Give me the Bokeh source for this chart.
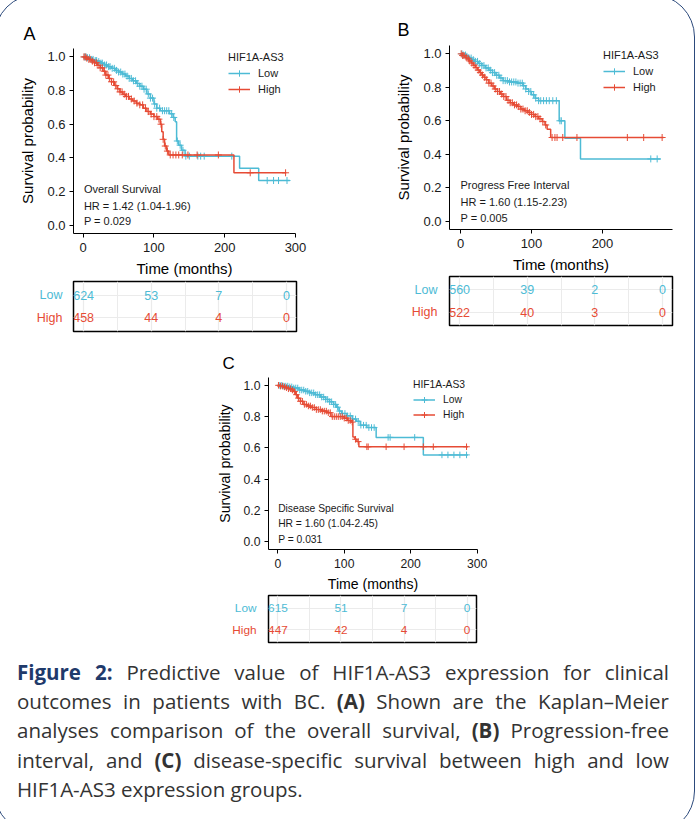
import numpy as np
from bokeh.plotting import figure
from bokeh.models import (FixedTicker, PrintfTickFormatter, Legend, LegendItem,
                          Label, Div, Spacer, InlineStyleSheet)
from bokeh.layouts import column, row
from bokeh.core.properties import value
from bokeh.embed import file_html
from bokeh.resources import INLINE

# ---------------- data ----------------
groups = ["Low", "High"]
risk_times = [0, 100, 200, 300]

# Panel A: Overall Survival
A_low_t = [0, 5, 10, 15, 20, 25, 30, 35, 40, 45, 50, 55, 60, 65, 70, 75, 80, 85, 90, 95,
           100, 104, 109, 122, 127, 130, 132, 135, 139, 144, 221, 248, 292]
A_low_s = [1.0, .995, .985, .978, .972, .963, .952, .942, .932, .92, .91, .898, .886, .872,
           .858, .842, .826, .808, .78, .755, .72, .695, .68, .662, .64, .615, .50, .475,
           .445, .41, .338, .265, .265]
A_low_cens = [2, 4, 6, 9, 12, 14, 17, 19, 22, 25, 27, 30, 33, 36, 38, 41, 44, 47, 50, 53, 56,
              59, 62, 65, 68, 71, 74, 77, 80, 83, 86, 89, 92, 95, 98, 101, 104, 108, 112, 115,
              118, 121, 125, 128, 133, 137, 141, 145, 150, 162, 166, 171, 210, 260, 269, 276, 288]
A_high_t = [0, 4, 8, 12, 16, 20, 24, 28, 32, 36, 40, 44, 48, 52, 56, 60, 65, 70, 75, 80, 85,
            90, 95, 100, 105, 109, 111, 113, 115, 118, 121, 213, 287]
A_high_s = [1.0, .993, .985, .975, .965, .95, .935, .915, .892, .872, .852, .83, .81, .792,
            .778, .765, .75, .738, .725, .715, .695, .675, .66, .645, .63, .60, .555, .51,
            .47, .44, .417, .311, .311]
A_high_cens = [1, 3, 5, 8, 10, 13, 16, 19, 21, 24, 27, 30, 32, 35, 37, 40, 43, 46, 49, 52, 55,
               58, 61, 64, 68, 72, 76, 80, 84, 88, 92, 96, 100, 104, 107, 110, 113, 116, 119,
               123, 127, 131, 135, 140, 148, 161, 191, 236, 286]
A_risk_low = [624, 53, 7, 0]
A_risk_high = [458, 44, 4, 0]
A_stats = ["Overall Survival", "HR = 1.42 (1.04-1.96)", "P = 0.029"]

# Panel B: Progress Free Interval
B_low_t = [0, 4, 8, 12, 16, 20, 25, 30, 35, 40, 45, 50, 55, 60, 68, 80, 88, 92, 96, 100,
           105, 110, 139, 147, 169, 282]
B_low_s = [1.0, .993, .985, .975, .965, .955, .942, .93, .916, .902, .888, .872, .856, .84,
           .832, .825, .81, .79, .775, .755, .735, .72, .60, .495, .372, .372]
B_low_cens = [2, 4, 7, 9, 12, 15, 18, 21, 24, 27, 30, 33, 36, 39, 42, 45, 48, 51, 54, 57, 60,
              63, 66, 69, 72, 75, 78, 81, 84, 87, 89, 92, 96, 99, 103, 106, 110, 113, 117, 121,
              125, 130, 135, 140, 142, 268, 277]
B_high_t = [0, 3, 6, 9, 12, 15, 18, 21, 24, 27, 30, 33, 36, 40, 44, 48, 52, 56, 60, 65, 70,
            75, 80, 85, 90, 95, 100, 105, 110, 115, 119, 122, 127, 286]
B_high_s = [1.0, .99, .98, .97, .958, .945, .932, .918, .903, .888, .873, .86, .845, .825,
            .808, .79, .775, .76, .745, .722, .708, .695, .685, .67, .66, .65, .638, .625,
            .612, .595, .575, .55, .50, .50]
B_high_cens = [1, 3, 5, 8, 11, 13, 16, 19, 22, 25, 28, 31, 34, 37, 40, 43, 46, 49, 52, 55, 58,
               61, 64, 67, 70, 73, 76, 79, 82, 85, 88, 91, 94, 97, 100, 103, 106, 109, 112,
               116, 120, 129, 133, 136, 144, 164, 235, 258, 284]
B_risk_low = [560, 39, 2, 0]
B_risk_high = [522, 40, 3, 0]
B_stats = ["Progress Free Interval", "HR = 1.60 (1.15-2.23)", "P = 0.005"]

# Panel C: Disease Specific Survival
C_low_t = [0, 8, 16, 24, 32, 40, 48, 56, 64, 72, 78, 84, 88, 92, 96, 104, 112, 118, 124,
           134, 148, 219, 286]
C_low_s = [1.0, .995, .99, .983, .97, .962, .952, .94, .925, .91, .895, .878, .86, .835,
           .82, .805, .785, .77, .745, .73, .667, .555, .555]
C_low_cens = [3, 6, 9, 12, 15, 18, 21, 24, 27, 30, 33, 36, 39, 42, 45, 48, 51, 54, 57, 60,
              63, 66, 69, 72, 75, 78, 81, 84, 87, 90, 93, 97, 101, 105, 109, 113, 117, 121,
              125, 129, 133, 137, 141, 145, 166, 169, 206, 247, 256, 265, 274, 284]
C_high_t = [0, 4, 8, 12, 16, 20, 24, 27, 30, 34, 38, 44, 50, 58, 66, 74, 80, 100, 105, 110,
            113, 116, 119, 122, 286]
C_high_s = [1.0, .995, .99, .985, .978, .97, .96, .94, .918, .898, .878, .868, .858, .845,
            .835, .825, .80, .79, .775, .765, .67, .655, .64, .607, .607]
C_high_cens = [1, 4, 7, 10, 13, 16, 19, 22, 25, 28, 31, 34, 37, 40, 43, 46, 49, 52, 55, 58,
               61, 64, 67, 70, 73, 76, 79, 82, 85, 88, 91, 94, 97, 100, 103, 106, 109, 112,
               117, 121, 134, 136, 163, 190, 219, 234, 284]
C_risk_low = [615, 51, 7, 0]
C_risk_high = [447, 42, 4, 0]
C_stats = ["Disease Specific Survival", "HR = 1.60 (1.04-2.45)", "P = 0.031"]

y_ticks = [0.0, 0.2, 0.4, 0.6, 0.8, 1.0]

# ---------------- styling ----------------
LOW_C = "#4DBBD5"
HIGH_C = "#E64B35"
FONT = "Liberation Sans"
INK = "#1a1a1a"


def step_value(times, surv, t):
    idx = np.searchsorted(np.asarray(times), np.asarray(t), side="right") - 1
    return np.asarray(surv)[idx]


def km_figure(letter, low, high, stats, g):
    s = g["scale"]
    p = figure(width=g["w"], height=g["h"], x_range=g["xr"], y_range=(-0.05, 1.05),
               output_backend="svg", toolbar_location=None,
               min_border_left=g["l"], min_border_right=g["r"],
               min_border_top=g["t"], min_border_bottom=g["b"])
    p.outline_line_color = None
    p.grid.visible = False
    p.background_fill_color = "white"
    p.border_fill_color = "white"

    p.title.text = letter
    p.title.text_font = FONT
    p.title.text_font_size = f"{18 * s:.1f}px"
    p.title.text_font_style = "normal"
    p.title.text_color = "black"
    p.title.align = "left"
    p.title.offset = g["title_off"]
    p.title.standoff = g["title_stand"]

    p.xaxis.ticker = FixedTicker(ticks=g["xticks"])
    p.yaxis.ticker = FixedTicker(ticks=y_ticks)
    p.yaxis.formatter = PrintfTickFormatter(format="%.1f")
    p.xaxis.axis_label = "Time (months)"
    p.yaxis.axis_label = "Survival probability"
    for ax in p.axis:
        ax.axis_line_color = "black"
        ax.axis_line_width = 1
        ax.major_tick_line_color = "black"
        ax.major_tick_line_width = 1
        ax.major_tick_out = 4
        ax.major_tick_in = 0
        ax.minor_tick_line_color = None
        ax.major_label_text_font = FONT
        ax.major_label_text_font_size = f"{13 * s:.1f}px"
        ax.major_label_text_color = INK
        ax.axis_label_text_font = FONT
        ax.axis_label_text_font_size = f"{15 * s:.1f}px"
        ax.axis_label_text_font_style = "normal"
        ax.axis_label_text_color = "black"
    p.xaxis.major_label_standoff = 5
    p.yaxis.major_label_standoff = 4
    p.xaxis.axis_label_standoff = 5
    p.yaxis.axis_label_standoff = 8

    rends = []
    for (t_, s_, c_), col in ((low, LOW_C), (high, HIGH_C)):
        r = p.step(x=t_, y=s_, mode="after", line_color=col, line_width=1.5)
        cy = step_value(t_, s_, c_)
        c = p.scatter(x=c_, y=cy, marker="cross", size=7 * s, line_color=col, line_width=1)
        rends.append((r, c))

    legend = Legend(
        items=[LegendItem(label=groups[0], renderers=list(rends[0])),
               LegendItem(label=groups[1], renderers=list(rends[1]))],
        location=g["leg"], title="HIF1A-AS3",
        title_text_font=FONT, title_text_font_size=f"{11 * s:.1f}px",
        title_text_font_style="normal", title_text_color=INK, title_standoff=2,
        label_text_font=FONT, label_text_font_size=f"{11 * s:.1f}px", label_text_color=INK,
        glyph_width=22, glyph_height=int(16 * s), label_height=int(16 * s),
        label_standoff=8, spacing=0, padding=0, margin=0,
        border_line_color=None, background_fill_alpha=0)
    p.add_layout(legend)

    for txt, yy in zip(stats, g["stat_y"]):
        p.add_layout(Label(x=g["stat_x"], y=yy, text=txt, text_font=FONT,
                           text_font_size=f"{11 * s:.1f}px", text_color=INK,
                           text_baseline="middle", text_align="left"))
    return p


def risk_table(risk_low, risk_high, g):
    s = g["scale"]
    fs = f"{12.5 * s:.1f}px"
    # group names to the left of the table box
    lab = figure(width=g["l"] - 1, height=g["th"], x_range=(0, 1), y_range=(-0.6, 1.6),
                 output_backend="svg", toolbar_location=None,
                 min_border_left=0, min_border_right=0,
                 min_border_top=g["tt"], min_border_bottom=g["tb"])
    lab.axis.visible = False
    lab.grid.visible = False
    lab.outline_line_color = None
    lab.text(x=[1, 1], y=[1, 0], text=groups, text_color=[LOW_C, HIGH_C],
             text_align="right", text_baseline="middle", x_offset=g["lab_off"],
             text_font=value(FONT), text_font_size=value(fs))

    t = figure(width=g["w"] - g["l"] + 1, height=g["th"], x_range=(-15, 315),
               y_range=(-0.6, 1.6), output_backend="svg", toolbar_location=None,
               min_border_left=1, min_border_right=g["tr"],
               min_border_top=g["tt"], min_border_bottom=g["tb"])
    t.xaxis.visible = False
    t.yaxis.visible = False
    t.outline_line_color = "black"
    t.outline_line_width = 1.5
    t.xgrid.ticker = FixedTicker(ticks=risk_times, minor_ticks=[50, 150, 250])
    t.ygrid.ticker = FixedTicker(ticks=[0, 1])
    t.xgrid.grid_line_color = "#ebebeb"
    t.xgrid.minor_grid_line_color = "#ebebeb"
    t.ygrid.grid_line_color = "#ebebeb"
    t.grid.grid_line_width = 1.2
    for vals, yy, col in ((risk_low, 1, LOW_C), (risk_high, 0, HIGH_C)):
        t.text(x=risk_times, y=[yy] * len(vals), text=[str(v) for v in vals],
               text_color=col, text_align="center", text_baseline="middle",
               text_font=value(FONT), text_font_size=value(fs))
    return row(lab, t)


GA = dict(scale=1.0, w=350, h=279, l=73, r=55, t=48, b=46, xr=(-13.7, 300),
          xticks=[0, 100, 200, 300], title_off=-50, title_stand=10,
          leg=(155, 136), stat_x=1, stat_y=[0.213, 0.115, 0.024],
          th=58, tr=54, tt=2, tb=6, lab_off=-10)
GB = dict(scale=1.0, w=349, h=275, l=99, r=27, t=45, b=46, xr=(-15.5, 298.6),
          xticks=[0, 100, 200], title_off=-52, title_stand=12,
          leg=(154, 134), stat_x=0, stat_y=[0.217, 0.117, 0.02],
          th=62, tr=27, tt=1, tb=12, lab_off=-11)
GC = dict(scale=0.94, w=297, h=257, l=68, r=20, t=40, b=44, xr=(-14, 300.5),
          xticks=[0, 100, 200, 300], title_off=-46, title_stand=9,
          leg=(145, 127), stat_x=0.5, stat_y=[0.215, 0.114, 0.015],
          th=56, tr=21, tt=1, tb=8, lab_off=-11)

kmA = km_figure("A", (A_low_t, A_low_s, A_low_cens), (A_high_t, A_high_s, A_high_cens), A_stats, GA)
tbA = risk_table(A_risk_low, A_risk_high, GA)
kmB = km_figure("B", (B_low_t, B_low_s, B_low_cens), (B_high_t, B_high_s, B_high_cens), B_stats, GB)
tbB = risk_table(B_risk_low, B_risk_high, GB)
kmC = km_figure("C", (C_low_t, C_low_s, C_low_cens), (C_high_t, C_high_s, C_high_cens), C_stats, GC)
tbC = risk_table(C_risk_low, C_risk_high, GC)

caption_lines = [
    '<b style="color:#1f3a6b">Figure 2:</b> Predictive value of HIF1A-AS3 expression for clinical',
    'outcomes in patients with BC. <b>(A)</b> Shown are the Kaplan&ndash;Meier',
    'analyses comparison of the overall survival, <b>(B)</b> Progression-free',
    'interval, and <b>(C)</b> disease-specific survival between high and low',
    'HIF1A-AS3 expression groups.',
]
line_html = []
for i, ln in enumerate(caption_lines):
    last = i == len(caption_lines) - 1
    align = "left" if last else "justify"
    line_html.append(
        f'<div style="text-align:{align};text-align-last:{align};white-space:normal;">{ln}</div>')
caption_html = (
    '<div style="font-family:\'Open Sans\',sans-serif;font-size:20.5px;line-height:29.2px;'
    'color:#333333;width:664px;padding:3px 0 0 12px;margin:0;">' + "".join(line_html) + '</div>')
caption = Div(text=caption_html, width=699, height=169)

frame_css = InlineStyleSheet(css="""
:host { position: relative; overflow: hidden; background: white; }
:host::after { content: ''; position: absolute; left: -6px; top: -6px; width: 701px; height: 840px;
  box-sizing: border-box; border: 1.5px solid #2c4a7c; border-radius: 43px; pointer-events: none; }
""")

root = column(
    row(column(kmA, tbA), column(kmB, tbB)),
    row(Spacer(width=200, height=313), column(kmC, tbC)),
    caption,
    stylesheets=[frame_css],
)

open("out.html", "w").write(file_html(root, INLINE))
